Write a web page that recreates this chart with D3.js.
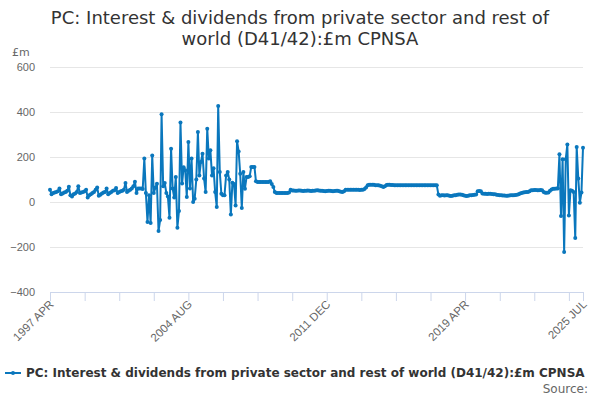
<!DOCTYPE html>
<html>
<head>
<meta charset="utf-8">
<script src="https://cdn.jsdelivr.net/npm/d3@7"></script>
<style>
  body { margin: 0; background: #fff; }
  svg { font-family: "DejaVu Sans", sans-serif; }
</style>
</head>
<body>
<script>
const w = 600;
const h = 400;

const title = ["PC: Interest & dividends from private sector and rest of", "world (D41/42):£m CPNSA"];
const seriesName = "PC: Interest & dividends from private sector and rest of world (D41/42):£m CPNSA";
const startMonth = "1997-04";
const tickLabels = ["1997 APR", "2004 AUG", "2011 DEC", "2019 APR", "2025 JUL"];
const yTicks = [-400, -200, 0, 200, 400, 600];

// monthly values, £m, from 1997 APR
const values = [
  55, 35, 40, 42, 45, 48, 60, 35, 38, 42, 45, 50,
  68, 30, 25, 35, 38, 45, 70, 40, 42, 45, 48, 55,
  20, 30, 35, 40, 45, 55, 65, 28, 32, 38, 42, 45,
  60, 35, 40, 45, 50, 52, 62, 40, 45, 48, 50, 55,
  85, 45, 50, 55, 60, 70, 90, 40, 60, 60, 60, 58,
  193, 40, -89, 30, -93, 207, 40, 64, 81, -129, -80, 390,
  70, 85, 40, 25, -70, 237, 60, 20, 111, -114, -40, 353,
  82, 155, 141, 22, 267, 60, 193, 0, 15, 100, 311, 118,
  178, 215, 104, 44, 326, 193, 230, 118, 150, 44, -22, 427,
  133, 37, 30, 30, 118, 133, 100, -55, 86, 80, -15, 270,
  225, 126, -27, 133, 59, 111, 111, 115, 156, 156, 156, 92,
  89, 89, 89, 89, 89, 89, 89, 89, 92, 80, 67, 45,
  40, 40, 40, 40, 40, 40, 40, 40, 42, 55, 51, 51,
  50, 50, 51, 51, 50, 49, 50, 50, 51, 50, 49, 50,
  50, 51, 52, 51, 50, 50, 49, 48, 49, 50, 50, 49,
  48, 49, 50, 50, 48, 46, 45, 48, 55, 55, 55, 55,
  55, 54, 54, 55, 54, 53, 54, 55, 58, 64, 74, 77,
  77, 77, 77, 74, 74, 74, 72, 70, 67, 70, 76, 77,
  77, 76, 76, 75, 75, 75, 75, 75, 74, 74, 74, 74,
  74, 74, 74, 74, 74, 74, 74, 74, 74, 74, 74, 74,
  74, 74, 74, 74, 74, 74, 74, 33, 28, 30, 30, 29,
  30, 30, 28, 27, 28, 30, 30, 32, 33, 33, 32, 30,
  28, 27, 28, 30, 30, 31, 32, 33, 48, 49, 48, 38,
  37, 37, 36, 37, 37, 36, 35, 34, 32, 31, 30, 30,
  29, 29, 28, 28, 29, 30, 30, 30, 31, 32, 35, 38,
  40, 42, 43, 44, 45, 48, 52, 52, 53, 53, 52, 52,
  53, 52, 45, 41, 41, 42, 50, 56, 59, 59, 60, 60,
  212, -62, 190, -222, 190, 256, -60, 52, 50, 45, -160, 244,
  104, -3, 42, 241
];

const parseMonth = d3.timeParse("%Y-%m");
const start = parseMonth(startMonth);
const data = values.map((v, i) => ({ date: d3.timeMonth.offset(start, i), value: v }));

const plotLeft = 50, plotRight = 583, plotTop = 67, plotBottom = 292;
const color = "#0a77bd";

const svg = d3.select("body").append("svg").attr("width", w).attr("height", h);

// title
svg.append("text")
  .attr("x", w / 2)
  .attr("y", 24)
  .attr("text-anchor", "middle")
  .style("font-size", "18px")
  .style("fill", "#333")
  .selectAll("tspan")
  .data(title)
  .enter()
  .append("tspan")
  .attr("x", w / 2)
  .attr("dy", (d, i) => (i === 0 ? 0 : 21))
  .text((d) => d);

const xScale = d3.scaleTime()
  .domain([data[0].date, data[data.length - 1].date])
  .range([plotLeft, plotRight]);

const yScale = d3.scaleLinear().domain([-400, 600]).range([plotBottom, plotTop]);

// grid + y labels
const yAxis = d3.axisLeft(yScale).tickValues(yTicks).tickSize(-(plotRight - plotLeft));
const gy = svg.append("g").attr("transform", "translate(" + plotLeft + ",0)").call(yAxis);
gy.select(".domain").remove();
gy.selectAll(".tick line").attr("stroke", "#e6e6e6");
gy.selectAll(".tick text").style("font-size", "11px").style("fill", "#666").attr("x", -15);

svg.append("text")
  .attr("x", 12)
  .attr("y", 56)
  .style("font-size", "11px")
  .style("fill", "#666")
  .text("£m");

// x axis: ticks every 22 months, labelled every 4th, plus the last month
const tickDates = d3.range(0, values.length, 22).map((i) => data[i].date);
tickDates.push(data[data.length - 1].date);
const labelled = [0, 88, 176, 264, values.length - 1].map((i) => +data[i].date);

const xAxis = d3.axisBottom(xScale)
  .tickValues(tickDates)
  .tickSize(9)
  .tickFormat((d) => {
    const k = labelled.indexOf(+d);
    return k >= 0 ? tickLabels[k] : "";
  });

const gx = svg.append("g").attr("transform", "translate(0," + plotBottom + ")").call(xAxis);
gx.select(".domain").attr("stroke", "#ccd6eb");
gx.selectAll(".tick line").attr("stroke", "#ccd6eb");
gx.selectAll(".tick text")
  .style("font-size", "11.5px")
  .style("fill", "#666")
  .attr("text-anchor", "end")
  .attr("dy", 0)
  .attr("y", 0)
  .attr("transform", "translate(4,13) rotate(-45)");

// line
const line = d3.line().x((d) => xScale(d.date)).y((d) => yScale(d.value));

svg.append("path")
  .datum(data)
  .attr("fill", "none")
  .attr("stroke", color)
  .attr("stroke-width", 2)
  .attr("stroke-linejoin", "round")
  .attr("d", line);

svg.append("g")
  .selectAll("circle")
  .data(data)
  .enter()
  .append("circle")
  .attr("cx", (d) => xScale(d.date))
  .attr("cy", (d) => yScale(d.value))
  .attr("r", 2)
  .attr("fill", color);

// legend
svg.append("line")
  .attr("x1", 5).attr("x2", 21)
  .attr("y1", 373).attr("y2", 373)
  .attr("stroke", color)
  .attr("stroke-width", 2);
svg.append("circle").attr("cx", 13).attr("cy", 373).attr("r", 2).attr("fill", color);
svg.append("text")
  .attr("x", 26)
  .attr("y", 377)
  .style("font-size", "12px")
  .style("font-weight", "bold")
  .style("fill", "#333")
  .text(seriesName);

svg.append("text")
  .attr("x", 588)
  .attr("y", 393)
  .attr("text-anchor", "end")
  .style("font-size", "12px")
  .style("fill", "#666")
  .text("Source:");
</script>
</body>
</html>
